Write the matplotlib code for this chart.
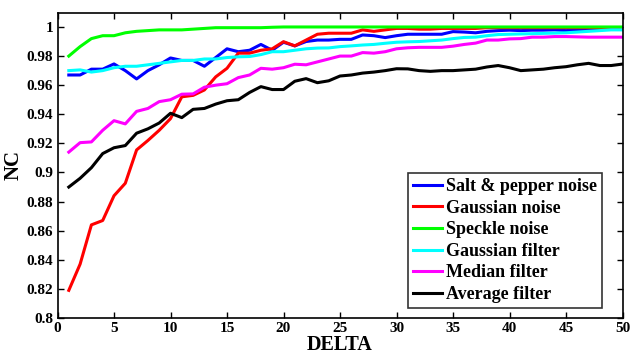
import matplotlib
matplotlib.use("Agg")
import matplotlib.pyplot as plt
import numpy as np

delta = np.arange(1, 51)

salt_pepper = [0.967, 0.967, 0.971, 0.971, 0.9746, 0.970, 0.9643, 0.970, 0.974, 0.9787,
               0.977, 0.977, 0.973, 0.979, 0.985, 0.983, 0.984, 0.988, 0.984, 0.9895,
               0.987, 0.990, 0.991, 0.991, 0.9915, 0.9915, 0.9945, 0.994, 0.9927, 0.994,
               0.995, 0.995, 0.995, 0.995, 0.9968, 0.9965, 0.996, 0.997, 0.9975, 0.9978,
               0.9975, 0.9978, 0.9978, 0.998, 0.9975, 0.998, 0.9985, 0.999, 0.999, 0.999]
gaussian_noise = [0.819, 0.837, 0.864, 0.867, 0.884, 0.8926, 0.9155, 0.922, 0.929, 0.937,
                  0.952, 0.953, 0.9567, 0.9657, 0.9716, 0.982, 0.982, 0.984, 0.985, 0.9899,
                  0.987, 0.991, 0.995, 0.9957, 0.9957, 0.9957, 0.998, 0.997, 0.998, 0.999,
                  0.999, 0.9985, 0.9985, 0.999, 0.999, 0.999, 0.999, 0.9995, 0.9995, 0.9995,
                  0.9995, 0.9995, 0.9995, 0.9995, 0.9995, 0.9995, 0.9995, 0.9995, 0.9995, 0.9995]
speckle_noise = [0.980, 0.9865, 0.992, 0.994, 0.994, 0.996, 0.997, 0.9975, 0.998, 0.998,
                 0.998, 0.9985, 0.999, 0.9995, 0.9995, 0.9995, 0.9995, 0.9995, 0.9998, 1.0,
                 1.0, 1.0, 1.0, 1.0, 1.0, 1.0, 1.0, 1.0, 1.0, 1.0,
                 1.0, 1.0, 1.0, 1.0, 1.0, 1.0, 1.0, 1.0, 1.0, 1.0,
                 1.0, 1.0, 1.0, 1.0, 1.0, 1.0, 1.0, 1.0, 1.0, 1.0]
gaussian_filter = [0.970, 0.9705, 0.969, 0.970, 0.972, 0.973, 0.973, 0.974, 0.975, 0.976,
                   0.977, 0.977, 0.978, 0.978, 0.979, 0.9795, 0.9797, 0.981, 0.983, 0.983,
                   0.984, 0.985, 0.9855, 0.9856, 0.9865, 0.987, 0.9876, 0.988, 0.9888, 0.9895,
                   0.9898, 0.990, 0.9905, 0.991, 0.992, 0.9928, 0.993, 0.994, 0.9948, 0.995,
                   0.9952, 0.9954, 0.9956, 0.9958, 0.996, 0.9965, 0.997, 0.9975, 0.998, 0.998]
median_filter = [0.914, 0.9205, 0.921, 0.929, 0.9356, 0.9334, 0.942, 0.944, 0.9487, 0.950,
                 0.9538, 0.954, 0.9586, 0.960, 0.961, 0.9652, 0.967, 0.9716, 0.971, 0.972,
                 0.9744, 0.974, 0.976, 0.978, 0.980, 0.980, 0.9824, 0.982, 0.983, 0.985,
                 0.9857, 0.986, 0.986, 0.986, 0.9868, 0.988, 0.9889, 0.991, 0.991, 0.9918,
                 0.992, 0.993, 0.993, 0.9934, 0.9934, 0.9932, 0.993, 0.993, 0.993, 0.993]
average_filter = [0.890, 0.896, 0.9033, 0.913, 0.917, 0.9185, 0.927, 0.930, 0.934, 0.9407,
                  0.9377, 0.9434, 0.944, 0.947, 0.9493, 0.950, 0.955, 0.959, 0.957, 0.957,
                  0.9627, 0.9645, 0.9617, 0.963, 0.9663, 0.967, 0.9683, 0.969, 0.970, 0.9713,
                  0.9712, 0.970, 0.9695, 0.970, 0.970, 0.9705, 0.971, 0.9725, 0.9735, 0.972,
                  0.970, 0.9705, 0.971, 0.972, 0.9727, 0.974, 0.975, 0.9735, 0.9735, 0.9745]

series = [
    ("Salt & pepper noise", salt_pepper, "#0000ff"),
    ("Gaussian noise", gaussian_noise, "#ff0000"),
    ("Speckle noise", speckle_noise, "#00ff00"),
    ("Gaussian filter", gaussian_filter, "#00ffff"),
    ("Median filter", median_filter, "#ff00ff"),
    ("Average filter", average_filter, "#000000"),
]

plt.rcParams["font.family"] = ["Liberation Serif", "DejaVu Serif"]
plt.rcParams["font.weight"] = "bold"

fig = plt.figure(figsize=(6.3, 3.54), dpi=100)
ax = fig.add_axes([57.5 / 630, 1 - 318 / 354, 565 / 630, 305 / 354])

for name, vals, col in series:
    ax.plot(delta, vals, color=col, linewidth=2.2, label=name)

ax.set_xlim(0, 50)
ax.set_ylim(0.8, 1.0096)
ax.set_xticks(range(0, 51, 5))
ax.set_yticks(np.round(np.arange(0.8, 1.001, 0.02), 2))
ax.set_yticklabels(["0.8", "0.82", "0.84", "0.86", "0.88", "0.9", "0.92", "0.94",
                    "0.96", "0.98", "1"])
ax.tick_params(direction="in", top=True, right=True, length=4, width=1,
               labelsize=11, pad=3)
for lab in ax.get_xticklabels() + ax.get_yticklabels():
    lab.set_fontweight("bold")
for sp in ax.spines.values():
    sp.set_linewidth(1.2)

ax.set_xlabel("DELTA", fontsize=14.5, fontweight="bold")
ax.xaxis.set_label_coords(0.5, -0.055)
ax.set_ylabel("NC", fontsize=15, fontweight="bold", labelpad=2)

leg = ax.legend(loc="lower right", bbox_to_anchor=(0.97, 0.02), fontsize=13,
                frameon=True, fancybox=False, edgecolor="black", handlelength=1.6,
                handletextpad=0.2, labelspacing=0.25, borderpad=0.3, borderaxespad=0.2)
leg.get_frame().set_linewidth(1.2)
for t in leg.get_texts():
    t.set_fontweight("bold")

fig.savefig("out.png", dpi=100)
